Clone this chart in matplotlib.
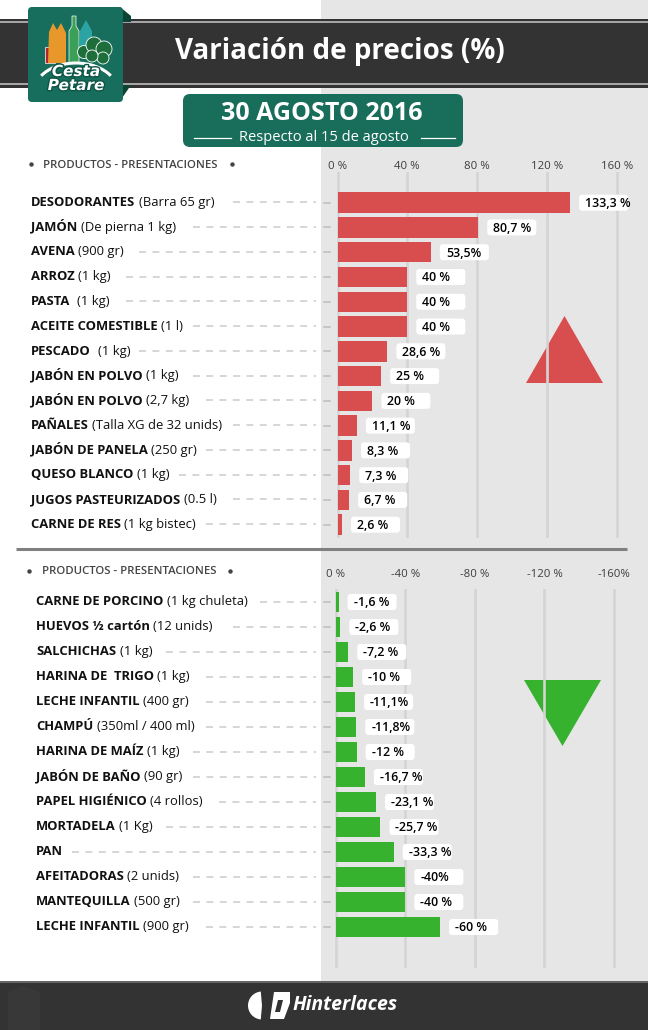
import numpy as np
import matplotlib
matplotlib.use("Agg")
import matplotlib.pyplot as plt
from matplotlib.patches import Rectangle, FancyBboxPatch, Polygon, Wedge, Circle, Arc
from matplotlib.lines import Line2D
from matplotlib.transforms import IdentityTransform
import matplotlib.patheffects as pe

plt.rcParams['font.family'] = ['Open Sans', 'DejaVu Sans']
plt.rcParams['lines.scale_dashes'] = False

# ---------------- data ----------------
up_products = ["DESODORANTES", "JAMÓN", "AVENA", "ARROZ", "PASTA ", "ACEITE COMESTIBLE",
               "PESCADO ", "JABÓN EN POLVO", "JABÓN EN POLVO", "PAÑALES", "JABÓN DE PANELA",
               "QUESO BLANCO", "JUGOS PASTEURIZADOS", "CARNE DE RES"]
up_sizes = ["(Barra 65 gr)", "(De pierna 1 kg)", "(900 gr)", "(1 kg)", "(1 kg)", "(1 l)",
            "(1 kg)", "(1 kg)", "(2,7 kg)", "(Talla XG de 32 unids)", "(250 gr)",
            "(1 kg)", "(0.5 l)", "(1 kg bistec)"]
up_values = [133.3, 80.7, 53.5, 40, 40, 40, 28.6, 25, 20, 11.1, 8.3, 7.3, 6.7, 2.6]
up_labels = ["133,3 %", "80,7 %", "53,5%", "40 %", "40 %", "40 %", "28,6 %", "25 %",
             "20 %", "11,1 %", "8,3 %", "7,3 %", "6,7 %", "2,6 %"]

down_products = ["CARNE DE PORCINO", "HUEVOS ½ cartón", "SALCHICHAS", "HARINA DE  TRIGO",
                 "LECHE INFANTIL", "CHAMPÚ", "HARINA DE MAÍZ", "JABÓN DE BAÑO",
                 "PAPEL HIGIÉNICO", "MORTADELA", "PAN", "AFEITADORAS", "MANTEQUILLA",
                 "LECHE INFANTIL"]
down_sizes = ["(1 kg chuleta)", "(12 unids)", "(1 kg)", "(1 kg)", "(400 gr)",
              "(350ml / 400 ml)", "(1 kg)", "(90 gr)", "(4 rollos)", "(1 Kg)", "",
              "(2 unids)", "(500 gr)", "(900 gr)"]
down_values = [-1.6, -2.6, -7.2, -10, -11.1, -11.8, -12, -16.7, -23.1, -25.7, -33.3,
               -40, -40, -60]
down_labels = ["-1,6 %", "-2,6 %", "-7,2 %", "-10 %", "-11,1%", "-11,8%", "-12 %",
               "-16,7 %", "-23,1 %", "-25,7 %", "-33,3 %", "-40%", "-40 %", "-60 %"]

up_ticks = [0, 40, 80, 120, 160]
up_tick_labels = ["0 %", "40 %", "80 %", "120 %", "160 %"]
down_ticks = [0, -40, -80, -120, -160]
down_tick_labels = ["0 %", "-40 %", "-80 %", "-120 %", "-160%"]

title = "Variación de precios (%)"
date_text = "30 AGOSTO 2016"
subtitle = "Respecto al 15 de agosto"
column_header = "PRODUCTOS - PRESENTACIONES"
brand = "Hinterlaces"
logo_words = ["Cesta", "Petare"]

# ---------------- style ----------------
W, H, DPI = 648, 1030, 100
RED = '#d84e4f'
GREEN = '#36b22f'
DARK = '#333333'
GRAY_BG = '#e6e6e6'
GRID = '#d4d4d4'
TEAL = '#186e5b'
TXT = '#111111'
ID = IdentityTransform()

fig = plt.figure(figsize=(W / DPI, H / DPI), dpi=DPI, facecolor='white')

bg = fig.add_axes([0, 0, 1, 1])
bg.set_xlim(0, W)
bg.set_ylim(H, 0)
bg.axis('off')
bg.set_zorder(0)

# right gray panel
bg.add_patch(Rectangle((321, 0), W - 321, 981, color=GRAY_BG, lw=0))


def box_axes(x0, y0, x1, y1):
    return fig.add_axes([x0 / W, 1 - y1 / H, (x1 - x0) / W, (y1 - y0) / H])


def make_chart(x_zero, px_unit, row0, row_step, top, bottom, values, color,
               ticks, ticklabels, sign, tick_gap):
    ax = box_axes(321, top, W, bottom)
    ax.set_zorder(1)
    ax.patch.set_alpha(0)
    ax.set_xlim(sign * (321 - x_zero) / px_unit, sign * (W - x_zero) / px_unit)
    n = len(values)
    ax.set_ylim((bottom - row0) / row_step, (top - row0) / row_step)
    ax.barh(np.arange(n), values, height=20.5 / row_step, color=color, zorder=3)
    ax.set_xticks(ticks)
    ax.set_xticklabels(ticklabels)
    ax.tick_params(axis='x', bottom=False, labelbottom=False, top=False, labeltop=True,
                   length=0, pad=tick_gap, labelsize=8.2, labelcolor='#3d3d3d')
    ax.set_yticks([])
    ax.xaxis.grid(True, color=GRID, lw=1.9)
    ax.set_axisbelow(True)
    for s in ax.spines.values():
        s.set_visible(False)
    return ax


ax_up = make_chart(337.5, 1.745, 202.7, 24.77, 172, 538, up_values, RED,
                   up_ticks, up_tick_labels, 1, 0.0)
ax_dn = make_chart(335.8, 1.739, 602.0, 25.0, 589, 968, down_values, GREEN,
                   down_ticks, down_tick_labels, -1, 6.6)

renderer = fig.canvas.get_renderer()


def rows(ax, products, sizes, values, labels, text_x, label_fs=9.4):
    space = 3.4
    for i, (p, s, v, lab) in enumerate(zip(products, sizes, values, labels)):
        xd, yd = ax.transData.transform((v, i))
        # value box
        x0 = xd + 9
        ax.add_patch(FancyBboxPatch((x0, yd - 8), 49, 16,
                                    boxstyle='round,pad=0,rounding_size=3',
                                    fc='white', ec='none', transform=ID, zorder=4,
                                    clip_on=False))
        ax.text(x0 + 6, yd - 4.4, lab, transform=ID, ha='left', va='baseline',
                fontsize=8.9, fontweight='semibold', color='#000000', zorder=5,
                clip_on=False)
        # product label
        ly = yd + 1.5
        t1 = fig.text(text_x, ly - 4.7, p.rstrip(), transform=ID, ha='left',
                      va='baseline', fontsize=label_fs, fontweight='bold', color=TXT)
        end = t1.get_window_extent(renderer).x1
        extra = len(p) - len(p.rstrip())
        if s:
            t2 = fig.text(end + space + 3.5 * extra, ly - 4.7, s, transform=ID,
                          ha='left', va='baseline', fontsize=label_fs,
                          fontweight='normal', color=TXT)
            end = t2.get_window_extent(renderer).x1
        # dashed leader aligned on a common grid
        period = 13.4
        start = np.ceil((end + 8 - 5) / period) * period + 5
        fig.add_artist(Line2D([start, 316], [ly - 1, ly - 1], transform=ID,
                              color='#d0d0d0', lw=1.2, dashes=(5.0, 4.65)))
        fig.add_artist(Line2D([324, 330], [yd, yd], transform=ID,
                              color='#bdbdbd', lw=1.1))


rows(ax_up, up_products, up_sizes, up_values, up_labels, 31)
rows(ax_dn, down_products, down_sizes, down_values, down_labels, 36)

# column headers
for (bx, tx, bx2, y) in [(31, 43, 232, 165), (29, 41.5, 230, 572)]:
    bg.plot([bx, bx2], [y - 1, y - 1], ls='none', marker='o', ms=3.2,
            color='#444444', mec='none')
    bg.text(tx, y, column_header, ha='left', va='center', fontsize=8.2,
            fontweight='semibold', color='#444444')

# decorative triangles
bg.add_patch(Polygon([(526, 383), (603, 383), (564.5, 316)], closed=True,
                     color=RED, lw=0))
bg.add_patch(Polygon([(524, 680), (601, 680), (562.5, 746)], closed=True,
                     color=GREEN, lw=0))

# separator
bg.plot([16, 627], [548.5, 548.5], color='#808080', lw=2.2, solid_capstyle='butt')

# ---------------- header ----------------
bg.add_patch(Rectangle((0, 19), W, 69, color=DARK, lw=0))
bg.add_patch(Rectangle((0, 21.2), W, 1.8, color='#a5a5a5', lw=0))
bg.add_patch(Rectangle((0, 83.2), W, 1.8, color='#a5a5a5', lw=0))
bg.text(340, 59.5, title, ha='center', va='baseline', color='white', fontsize=20,
        fontweight='bold')

# logo
bg.add_patch(Polygon([(120, 7), (131, 16), (131, 22), (120, 22)], color='#0d4337', lw=0))
bg.add_patch(Polygon([(120, 85), (131, 85), (120, 101)], color='#0d4337', lw=0))
bg.add_patch(FancyBboxPatch((28, 7), 95, 95, boxstyle='round,pad=0,rounding_size=4',
                            fc='#176e5c', ec='none'))
bg.add_patch(Rectangle((45, 47), 10, 16, fc='#b3262c', ec='white', lw=0.5))
bg.add_patch(Polygon([(48, 63), (49, 32), (53, 23), (57, 30), (61, 23), (66, 33),
                      (66, 63)], fc='#e8972b', ec='none'))
bg.add_patch(Polygon([(69, 63), (69, 31), (72, 26), (72, 16), (76, 16), (76, 26),
                      (79, 31), (79, 63)], fc='#3aa058', ec='white', lw=0.5))
bg.add_patch(Polygon([(79, 46), (80, 31), (86, 20), (92, 31), (92, 46)],
                     fc='#2ba3a3', ec='none'))
for (cx, cy, r) in [(84, 52, 6.5), (94, 45, 8), (104, 49, 8), (103, 58, 6), (92, 56, 6)]:
    bg.add_patch(Circle((cx, cy), r, fc='#1d6e3b', ec='white', lw=0.6))
bg.add_patch(Arc((76, 92), 84, 58, theta1=205, theta2=335, color='white', lw=2.2))
for word, y in zip(logo_words, [71.5, 85.5]):
    bg.text(76, y, word, ha='center', va='center', color='white', fontsize=11,
            fontweight='bold', style='italic', family='DejaVu Sans',
            path_effects=[pe.withStroke(linewidth=2, foreground='#0f5546')])

# date box
bg.add_patch(FancyBboxPatch((183, 94), 280, 53, boxstyle='round,pad=0,rounding_size=7',
                            fc=TEAL, ec='none'))
bg.text(322, 120.5, date_text, ha='center', va='baseline', color='white',
        fontsize=18, fontweight='bold')
bg.text(323.5, 141, subtitle, ha='center', va='baseline', color='white',
        fontsize=10.5)
bg.plot([194, 231], [138, 138], color='white', lw=0.9)
bg.plot([421, 455], [138, 138], color='white', lw=0.9)

# ---------------- footer ----------------
bg.add_patch(Rectangle((0, 981), W, 49, color=DARK, lw=0))
bg.plot([0, W], [981.5, 981.5], color='#707070', lw=1.2)
bg.add_patch(Polygon([(8, 992), (22, 986), (40, 992), (40, 1030), (8, 1030)],
                     color='#383838', lw=0))
bg.add_patch(Wedge((262, 1005.5), 14, 95, 265, fc='white', ec='none'))
bg.add_patch(Polygon([(266, 992), (272, 992), (267, 1019), (261, 1019)], fc=DARK))
bg.add_patch(Polygon([(274, 992), (290, 992), (290, 1003), (284, 1019), (270, 1019)],
                     fc='white', ec='none'))
bg.add_patch(Polygon([(278, 1000), (283, 1000), (280, 1012), (275, 1012)], fc=DARK))
bg.text(345, 1010.5, brand, ha='center', va='baseline', color='white', fontsize=14,
        fontweight='bold', style='italic')

fig.savefig('out.png', dpi=DPI, facecolor='white')
